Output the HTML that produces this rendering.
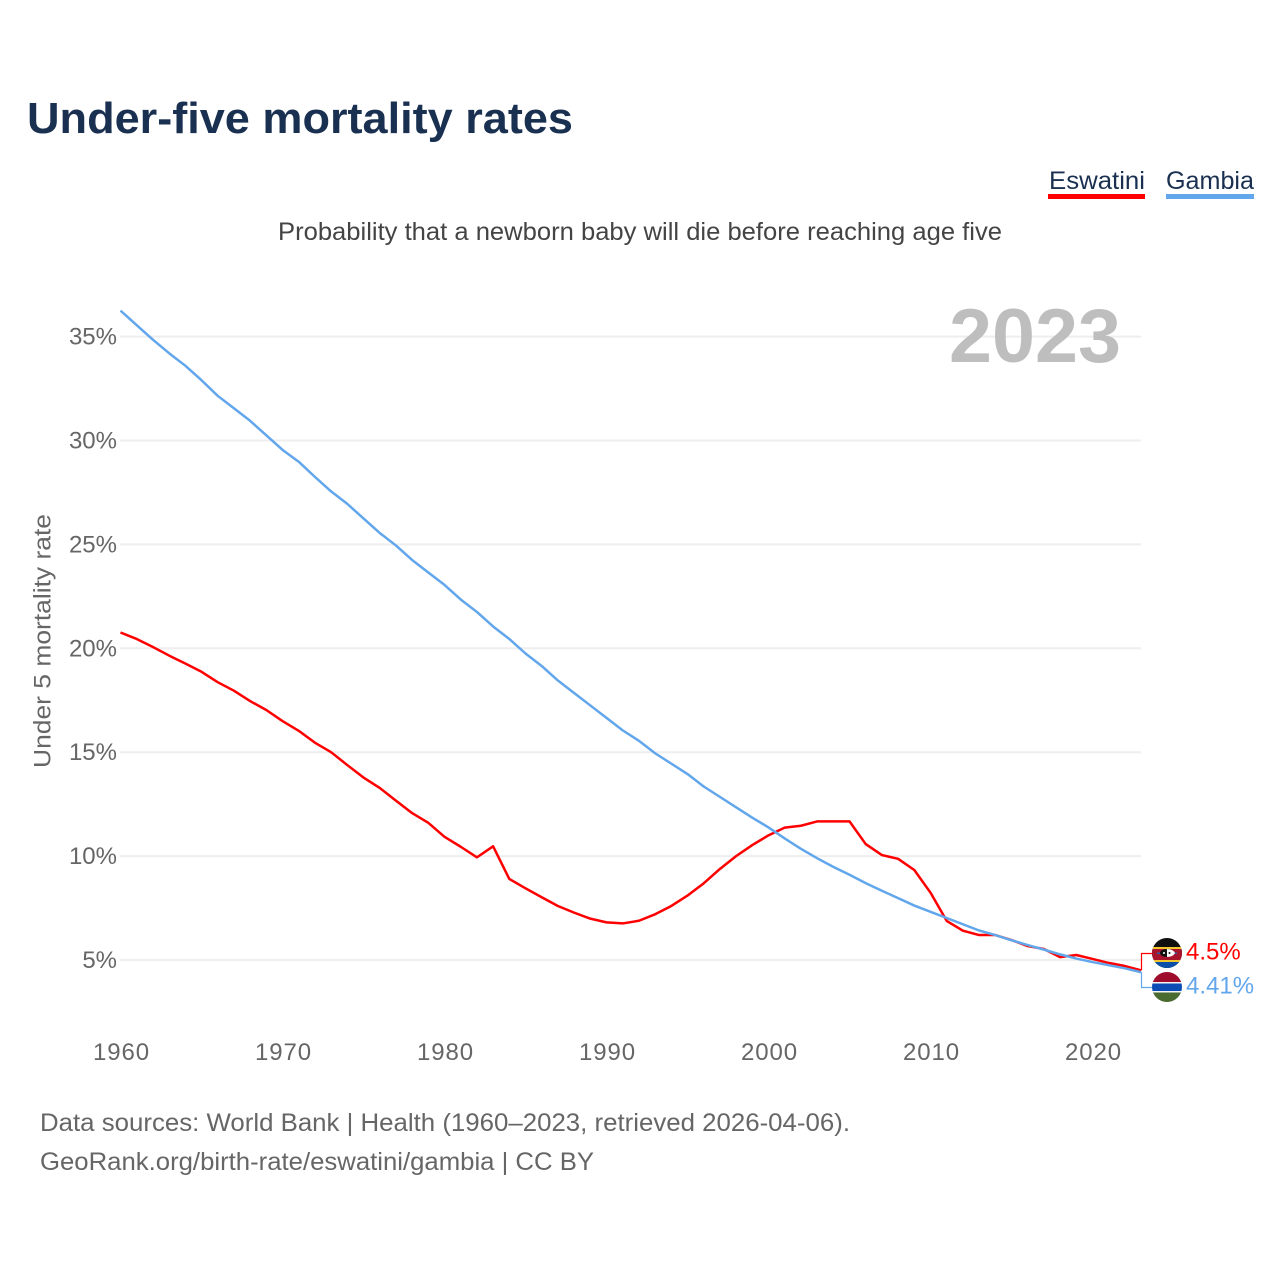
<!DOCTYPE html>
<html lang="en">
<head>
<meta charset="utf-8">
<title>Under-five mortality rates</title>
<style>
html,body{margin:0;padding:0;background:#fff;}
svg{display:block;}
text{font-family:"Liberation Sans",sans-serif;}
</style>
</head>
<body>
<svg id="chart" width="1280" height="1280" viewBox="0 0 1280 1280" xmlns="http://www.w3.org/2000/svg">
  <rect width="1280" height="1280" fill="#ffffff"/>
  <defs>
    <clipPath id="clip-sz"><circle cx="1167" cy="953" r="15"/></clipPath>
    <clipPath id="clip-gm"><circle cx="1167" cy="987" r="15"/></clipPath>
  </defs>
  <text x="27" y="133" font-size="44" font-weight="700" fill="#1a3050" textLength="546" lengthAdjust="spacingAndGlyphs">Under-five mortality rates</text>
  <text x="1049" y="189" font-size="25" fill="#1a3050" textLength="96" lengthAdjust="spacingAndGlyphs">Eswatini</text>
  <rect x="1048" y="194" width="97" height="5" fill="#ff0000"/>
  <text x="1166" y="189" font-size="25" fill="#1a3050" textLength="88" lengthAdjust="spacingAndGlyphs">Gambia</text>
  <rect x="1166" y="194" width="88" height="5" fill="#62a6ec"/>
  <text x="278" y="240" font-size="25" fill="#444444" textLength="724" lengthAdjust="spacingAndGlyphs">Probability that a newborn baby will die before reaching age five</text>
  <g id="grid"></g>
  <g id="y-ticks"></g>
  <g id="x-ticks"></g>
  <text transform="translate(50.5,641) rotate(-90)" text-anchor="middle" font-size="24.5" fill="#666666" textLength="254" lengthAdjust="spacingAndGlyphs">Under 5 mortality rate</text>
  <text x="949" y="362" font-size="76" font-weight="700" fill="#bebebe" textLength="172" lengthAdjust="spacingAndGlyphs">2023</text>
  <g id="series"></g>
  <g clip-path="url(#clip-sz)">
    <rect x="1152" y="938" width="30" height="30" fill="#0f0f0f"/>
    <rect x="1152" y="947" width="30" height="2" fill="#f2c72e"/>
    <rect x="1152" y="949" width="30" height="11" fill="#a8142c"/>
    <rect x="1152" y="960" width="30" height="2" fill="#f2c72e"/>
    <rect x="1152" y="962" width="30" height="6" fill="#0a50a8"/>
    <rect x="1157" y="952.5" width="20" height="1.5" fill="#2b5fa8"/>
    <ellipse cx="1167" cy="953" rx="7" ry="4" fill="#111111"/>
    <path d="M1167 949 Q1173 949 1175 953 Q1173 957 1167 957 Z" fill="#ffffff"/>
    <circle cx="1164" cy="953" r="1" fill="#ffffff"/>
    <circle cx="1169.5" cy="953" r="1" fill="#111111"/>
  </g>
  <g clip-path="url(#clip-gm)">
    <rect x="1152" y="972" width="30" height="10" fill="#a00c2c"/>
    <rect x="1152" y="982" width="30" height="1.5" fill="#f4f4f4"/>
    <rect x="1152" y="983.5" width="30" height="7.5" fill="#0b4db5"/>
    <rect x="1152" y="991" width="30" height="1.5" fill="#f4f4f4"/>
    <rect x="1152" y="992.5" width="30" height="10" fill="#4a6b30"/>
  </g>
  <text id="value-eswatini" x="1186" y="959.5" font-size="24" fill="#ff0000"></text>
  <text id="value-gambia" x="1186" y="993.5" font-size="24" fill="#62a6ec"></text>
  <text x="40" y="1131" font-size="25" fill="#666666" textLength="810" lengthAdjust="spacingAndGlyphs">Data sources: World Bank | Health (1960–2023, retrieved 2026-04-06).</text>
  <text x="40" y="1170" font-size="25" fill="#666666" textLength="554" lengthAdjust="spacingAndGlyphs">GeoRank.org/birth-rate/eswatini/gambia | CC BY</text>
</svg>
<script>
const startYear = 1960;
const xTickYears = [1960, 1970, 1980, 1990, 2000, 2010, 2020];
const yTickValues = [5, 10, 15, 20, 25, 30, 35];
const eswatiniValues = [
  20.76, 20.45, 20.06, 19.65, 19.27, 18.87, 18.37, 17.96, 17.46, 17.03,
  16.50, 16.03, 15.46, 15.00, 14.38, 13.78, 13.28, 12.67, 12.07, 11.60,
  10.93, 10.45, 9.94, 10.47, 8.90, 8.45, 8.02, 7.60, 7.28, 6.99,
  6.81, 6.76, 6.89, 7.20, 7.60, 8.10, 8.69, 9.38, 10.00, 10.53,
  11.00, 11.37, 11.46, 11.67, 11.67, 11.67, 10.58, 10.05, 9.87, 9.33,
  8.24, 6.88, 6.41, 6.20, 6.20, 5.96, 5.67, 5.53, 5.14, 5.24,
  5.05, 4.86, 4.71, 4.50
];
const gambiaValues = [
  36.25, 35.55, 34.85, 34.20, 33.60, 32.90, 32.15, 31.55, 30.95, 30.25,
  29.55, 28.98, 28.25, 27.55, 26.95, 26.25, 25.55, 24.95, 24.25, 23.65,
  23.05, 22.35, 21.75, 21.05, 20.45, 19.75, 19.15, 18.45, 17.85, 17.25,
  16.65, 16.05, 15.55, 14.95, 14.45, 13.95, 13.35, 12.85, 12.35, 11.85,
  11.38, 10.85, 10.35, 9.90, 9.48, 9.10, 8.70, 8.33, 7.98, 7.62,
  7.32, 7.02, 6.72, 6.42, 6.20, 5.95, 5.72, 5.50, 5.27, 5.07,
  4.90, 4.75, 4.60, 4.41
];
const eswatiniLabel = "4.5%";
const gambiaLabel = "4.41%";

const NS = "http://www.w3.org/2000/svg";
function xScale(year) { return 120.5 + (year - 1960) * 16.2; }
function yScale(value) { return 960 - (value - 5) * 20.78; }

function make(tag, parent, attrs) {
  const el = document.createElementNS(NS, tag);
  for (const k in attrs) el.setAttribute(k, attrs[k]);
  parent.appendChild(el);
  return el;
}

const gridGroup = document.getElementById("grid");
const yTickGroup = document.getElementById("y-ticks");
yTickValues.forEach(function (v) {
  const line = make("line", gridGroup, { x1: 120, x2: 1141, y1: yScale(v), y2: yScale(v), stroke: "#eeeeee", "stroke-width": 2 });
  
  
  const label = make("text", yTickGroup, { x: 117, y: yScale(v) + 8, "text-anchor": "end", "font-size": 24, fill: "#666666" });
  
  
  label.textContent = v + "%";
});

const xTickGroup = document.getElementById("x-ticks");
xTickYears.forEach(function (yr) {
  const label = make("text", xTickGroup, { x: xScale(yr) + 1, y: 1060, "text-anchor": "middle", "font-size": 24, fill: "#666666", "letter-spacing": "0.9" });
  
  
  label.textContent = yr;
});

function linePoints(values) {
  return values.map(function (v, i) {
    return xScale(startYear + i).toFixed(2) + "," + yScale(v).toFixed(2);
  }).join(" ");
}
const seriesGroup = document.getElementById("series");

const eswatiniLine = make("polyline", seriesGroup, { points: linePoints(eswatiniValues), fill: "none", stroke: "#ff0000", "stroke-width": 2.5, "stroke-linejoin": "round" });



const gambiaLine = make("polyline", seriesGroup, { points: linePoints(gambiaValues), fill: "none", stroke: "#62a6ec", "stroke-width": 2.5, "stroke-linejoin": "round" });



const lastYear = startYear + eswatiniValues.length - 1;
const endX = xScale(lastYear);

const eswatiniConnector = make("polyline", seriesGroup, { points: "1141.5," + yScale(eswatiniValues[eswatiniValues.length - 1]) + " 1141.5,953.5 1152,953.5", fill: "none", stroke: "#ff0000", "stroke-width": 1.2 });



const gambiaConnector = make("polyline", seriesGroup, { points: "1141.5," + yScale(gambiaValues[gambiaValues.length - 1]) + " 1141.5,987.5 1152,987.5", fill: "none", stroke: "#62a6ec", "stroke-width": 1.2 });



document.getElementById("value-eswatini").textContent = eswatiniLabel;
document.getElementById("value-gambia").textContent = gambiaLabel;
</script>
</body>
</html>
